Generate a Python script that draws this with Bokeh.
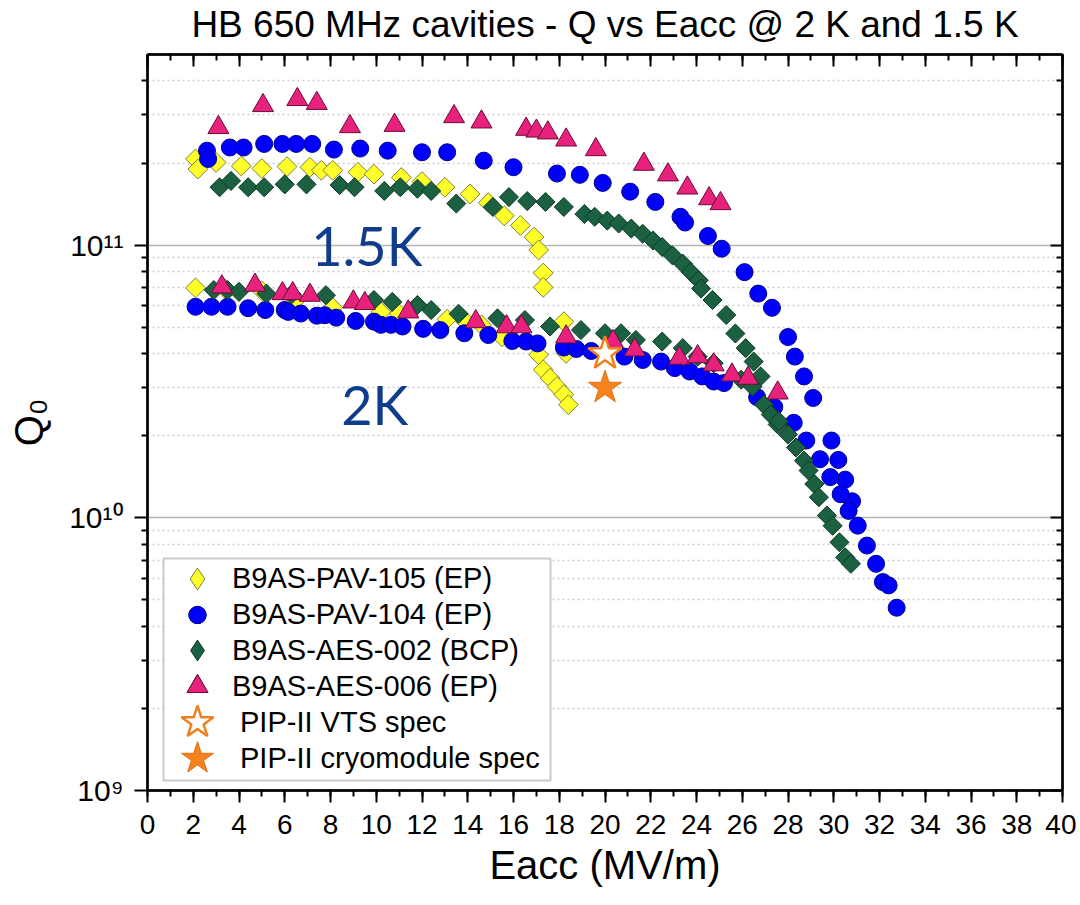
import math
from bokeh.plotting import figure
from bokeh.models import (Range1d, LinearAxis, LogAxis, FixedTicker, SingleIntervalTicker,
                          CustomJSTickFormatter, Legend, LegendItem, Label, BoxAnnotation)
from bokeh.embed import file_html
from bokeh.resources import INLINE

# ---------------- data ----------------
title_text = "HB 650 MHz cavities - Q vs Eacc @ 2 K and 1.5 K"
x_label = "Eacc (MV/m)"
y_label = "Q\u2080"
y_ticks = [1e9, 1e10, 1e11]
y_minor_ticks = [m * 10.0 ** e for e in (9, 10, 11) for m in range(2, 10) if m * 10.0 ** e < 5e11]

series_names = ["B9AS-PAV-105 (EP)", "B9AS-PAV-104 (EP)", "B9AS-AES-002 (BCP)",
                "B9AS-AES-006 (EP)", "PIP-II VTS spec", "PIP-II cryomodule spec"]

# B9AS-PAV-105 (EP) - yellow diamonds
pav105_x_15K = [2.1, 2.2, 3.0, 4.1, 5.0, 6.1, 7.1, 7.6, 8.1, 9.2, 9.9, 11.1, 12.0, 13.0, 14.1,
                14.9, 15.6, 16.3, 16.9, 17.1, 17.3, 17.3]
pav105_q_15K = [2.07e11, 1.90e11, 2.01e11, 1.95e11, 1.91e11, 1.94e11, 1.93e11, 1.88e11, 1.88e11,
                1.85e11, 1.82e11, 1.77e11, 1.71e11, 1.63e11, 1.54e11, 1.43e11, 1.28e11, 1.18e11,
                1.07e11, 9.6e10, 7.9e10, 7.0e10]
pav105_x_2K = [2.1, 3.4, 5.0, 6.5, 8.1, 10.2, 11.0, 13.1, 13.9, 14.6, 15.5, 17.1, 17.3, 17.6,
               17.9, 18.2, 18.4, 18.2, 18.3]
pav105_q_2K = [6.97e10, 6.9e10, 6.8e10, 6.3e10, 5.9e10, 5.69e10, 5.6e10, 5.35e10, 5.24e10,
               5.1e10, 4.61e10, 3.96e10, 3.49e10, 3.25e10, 3.03e10, 2.83e10, 2.60e10, 5.24e10, 4.01e10]

# B9AS-PAV-104 (EP) - blue circles
pav104_x_15K = [2.6, 2.65, 3.6, 4.2, 5.1, 5.9, 6.5, 7.2, 8.15, 9.3, 10.5, 12.0, 13.1, 14.7, 16.0,
                17.9, 18.9, 19.9, 21.1, 22.2, 23.3, 23.5, 24.5, 25.1, 26.1, 26.7, 27.3, 28.0, 28.3,
                28.7, 29.1, 29.9, 30.2, 30.5, 30.8]
pav104_q_15K = [2.22e11, 2.07e11, 2.28e11, 2.28e11, 2.35e11, 2.35e11, 2.35e11, 2.35e11, 2.24e11,
                2.26e11, 2.22e11, 2.19e11, 2.19e11, 2.04e11, 1.93e11, 1.83e11, 1.81e11, 1.69e11,
                1.57e11, 1.44e11, 1.27e11, 1.21e11, 1.08e11, 9.7e10, 7.96e10, 6.64e10, 5.89e10,
                4.6e10, 3.9e10, 3.3e10, 2.75e10, 1.92e10, 1.63e10, 1.38e10, 1.15e10]
pav104_x_2K = [2.1, 2.8, 3.5, 4.4, 5.15, 6.0, 6.15, 6.7, 7.4, 7.75, 8.25, 9.1, 9.9, 10.2, 10.65,
               11.15, 12.05, 12.8, 13.85, 14.9, 15.95, 16.55, 17.05, 18.2, 18.75, 19.4, 20.85,
               21.65, 22.45, 23.05, 23.7, 24.25, 24.75, 25.2, 26.65, 27.4, 28.25, 28.8, 29.4,
               29.85, 30.3, 30.65, 31.05, 31.45, 31.85, 32.15, 32.4, 32.75]
pav104_q_2K = [5.94e10, 5.94e10, 5.94e10, 5.87e10, 5.78e10, 5.78e10, 5.69e10, 5.61e10, 5.51e10,
               5.53e10, 5.42e10, 5.27e10, 5.24e10, 5.10e10, 5.10e10, 5.03e10, 4.93e10, 4.88e10,
               4.75e10, 4.68e10, 4.45e10, 4.43e10, 4.36e10, 4.21e10, 4.16e10, 4.09e10, 3.90e10,
               3.79e10, 3.74e10, 3.54e10, 3.44e10, 3.30e10, 3.16e10, 3.12e10, 2.77e10, 2.55e10,
               2.23e10, 1.92e10, 1.64e10, 1.41e10, 1.22e10, 1.06e10, 9.36e9, 7.91e9, 6.78e9,
               5.81e9, 5.65e9, 4.68e9]

# B9AS-AES-002 (BCP) - green diamonds
aes002_x_15K = [3.15, 3.65, 4.4, 5.1, 6.0, 6.95, 8.4, 9.05, 10.35, 11.05, 11.8, 12.4, 13.5, 15.1,
                15.8, 16.6, 17.4, 18.2, 19.1, 19.55, 20.1, 20.6, 21.15, 21.65, 22.1, 22.5, 22.95,
                23.4, 23.75, 24.1, 24.2, 24.7, 25.3, 25.7, 26.15, 26.5, 26.8]
aes002_q_15K = [1.63e11, 1.72e11, 1.63e11, 1.63e11, 1.67e11, 1.67e11, 1.66e11, 1.63e11, 1.58e11,
                1.63e11, 1.61e11, 1.58e11, 1.42e11, 1.38e11, 1.50e11, 1.45e11, 1.44e11, 1.38e11,
                1.30e11, 1.27e11, 1.23e11, 1.20e11, 1.15e11, 1.10e11, 1.04e11, 9.84e10, 9.17e10,
                8.55e10, 7.96e10, 7.43e10, 6.93e10, 6.29e10, 5.54e10, 4.74e10, 4.19e10, 3.74e10,
                3.30e10]
aes002_x_2K = [2.9, 3.5, 4.0, 5.2, 6.3, 7.8, 9.9, 10.7, 11.8, 12.4, 13.6, 15.3, 16.5, 17.6, 18.95,
               20.0, 20.7, 21.35, 22.5, 23.4, 24.05, 24.75, 25.95, 26.45, 26.95, 27.25, 27.55,
               27.6, 28.0, 28.35, 28.7, 28.9, 29.15, 29.35, 29.7, 29.95, 30.25, 30.5, 30.75]
aes002_q_2K = [6.84e10, 6.84e10, 6.74e10, 6.64e10, 6.6e10, 6.55e10, 6.29e10, 6.19e10, 6.03e10,
               5.78e10, 5.6e10, 5.39e10, 5.31e10, 5.03e10, 4.88e10, 4.75e10, 4.75e10, 4.49e10,
               4.43e10, 4.19e10, 3.90e10, 3.69e10, 3.21e10, 3.03e10, 2.60e10, 2.39e10, 2.20e10,
               2.26e10, 2.02e10, 1.81e10, 1.62e10, 1.49e10, 1.33e10, 1.19e10, 1.02e10, 9.35e9,
               8.13e9, 7.16e9, 6.78e9]

# B9AS-AES-006 (EP) - pink triangles
aes006_x_15K = [3.1, 5.05, 6.55, 7.4, 8.85, 10.8, 13.4, 14.6, 16.55, 17.0, 17.5, 18.3, 19.6,
                21.7, 22.75, 23.6, 24.55, 25.05]
aes006_q_15K = [2.70e11, 3.25e11, 3.42e11, 3.31e11, 2.72e11, 2.75e11, 2.96e11, 2.83e11, 2.66e11,
                2.62e11, 2.58e11, 2.43e11, 2.24e11, 1.98e11, 1.81e11, 1.62e11, 1.48e11, 1.42e11]
aes006_x_2K = [3.25, 4.7, 5.9, 6.35, 7.1, 9.0, 9.5, 11.4, 14.35, 15.7, 16.35, 18.3, 20.35, 21.3,
               23.25, 24.05, 24.75, 25.55, 26.25, 27.55]
aes006_q_2K = [7.03e10, 7.13e10, 6.64e10, 6.64e10, 6.55e10, 6.19e10, 6.11e10, 5.69e10, 5.24e10,
               5.02e10, 5.02e10, 4.61e10, 4.43e10, 4.13e10, 3.85e10, 3.90e10, 3.64e10, 3.34e10,
               3.25e10, 2.87e10]

# PIP-II specs
vts_spec_x = [20.0]
vts_spec_q = [4.0e10]
cm_spec_x = [20.0]
cm_spec_q = [3.0e10]

# annotation labels
temp_labels = ["1.5K", "2K"]
temp_label_x = [7.16, 8.47]
temp_label_q = [1.0e11, 2.61e10]

# ---------------- figure ----------------
FONT = "Liberation Sans"

p = figure(width=1076, height=900, x_range=Range1d(0, 40), y_range=Range1d(1e9, 5e11),
           y_axis_type="log", output_backend="svg", toolbar_location=None,
           min_border_left=147, min_border_right=14, min_border_top=53, min_border_bottom=110,
           background_fill_color="white", border_fill_color="white")
p.outline_line_color = "black"
p.outline_line_width = 2

blank = CustomJSTickFormatter(code="return ''")
sup_fmt = CustomJSTickFormatter(code="""
const sup = {'0':'\u2070','1':'\u00b9','2':'\u00b2','3':'\u00b3','4':'\u2074','5':'\u2075','6':'\u2076','7':'\u2077','8':'\u2078','9':'\u2079'};
const e = Math.round(Math.log10(tick));
return '10' + String(e).split('').map(c => sup[c]).join('');
""")


def xticker():
    return SingleIntervalTicker(interval=2, num_minor_ticks=2)


def yticker():
    return FixedTicker(ticks=y_ticks, minor_ticks=y_minor_ticks)


def style_axis(ax, inward):
    ax.axis_line_width = 2.5
    ax.axis_line_color = "black"
    ax.major_tick_line_width = 2
    ax.minor_tick_line_width = 2
    ax.major_tick_line_color = "black"
    ax.minor_tick_line_color = "black"
    if inward:
        ax.major_tick_in, ax.major_tick_out = 12, 0
        ax.minor_tick_in, ax.minor_tick_out = 6, 0
    else:
        ax.major_tick_in, ax.major_tick_out = 0, 12
        ax.minor_tick_in, ax.minor_tick_out = 0, 6
    ax.major_label_text_font = FONT
    ax.major_label_text_font_size = "28px"
    ax.major_label_text_color = "black"
    ax.axis_label_text_font = FONT
    ax.axis_label_text_font_style = "normal"
    ax.axis_label_text_color = "black"


xa = p.xaxis[0]
xa.ticker = xticker()
style_axis(xa, False)
xa.major_label_standoff = 12
xa.axis_label = x_label
xa.axis_label_text_font_size = "40px"
xa.axis_label_standoff = 6

ya = p.yaxis[0]
ya.ticker = yticker()
ya.formatter = sup_fmt
style_axis(ya, False)
ya.major_tick_out = 13
ya.major_label_text_font_size = "30px"
ya.major_label_standoff = 11
ya.axis_label = y_label
ya.axis_label_text_font_size = "40px"
ya.axis_label_standoff = 15

top = LinearAxis(ticker=xticker(), formatter=blank, major_label_standoff=0,
                 axis_label=title_text, axis_label_standoff=10)
style_axis(top, True)
top.major_label_text_font_size = "0px"
top.axis_label_text_font_size = "37px"
p.add_layout(top, "above")

right = LogAxis(ticker=yticker(), formatter=blank, major_label_standoff=0)
style_axis(right, True)
right.major_label_text_font_size = "0px"
p.add_layout(right, "right")

p.xgrid.visible = False
p.ygrid.ticker = yticker()
p.ygrid.level = "underlay"
p.ygrid.grid_line_color = "#b4b4b4"
p.ygrid.grid_line_width = 1.5
p.ygrid.minor_grid_line_color = "#cdcdcd"
p.ygrid.minor_grid_line_width = 1.5
p.ygrid.minor_grid_line_dash = "2 3"

ANG = math.pi / 4
yellow = dict(fill_color="#ffff2a", line_color="#7f7f40", line_width=1)
blue = dict(fill_color="#0000ff", line_color="#00008b", line_width=1)
green = dict(fill_color="#1b6040", line_color="#0f3a26", line_width=1)
pink = dict(fill_color="#e8217c", line_color="#6a0b38", line_width=1)

# legend-only diamond glyphs, hidden underneath the first real marker of each series
leg_y = p.scatter(pav105_x_15K[:1], pav105_q_15K[:1], marker="diamond", size=9, **yellow)
leg_g = p.scatter(aes002_x_15K[:1], aes002_q_15K[:1], marker="diamond", size=9, **green)

r_y1 = p.scatter(pav105_x_15K, pav105_q_15K, marker="square", size=14, angle=ANG, **yellow)
r_y2 = p.scatter(pav105_x_2K, pav105_q_2K, marker="square", size=14, angle=ANG, **yellow)
r_b1 = p.scatter(pav104_x_15K, pav104_q_15K, marker="circle", size=17, **blue)
r_b2 = p.scatter(pav104_x_2K, pav104_q_2K, marker="circle", size=17, **blue)
r_g1 = p.scatter(aes002_x_15K, aes002_q_15K, marker="square", size=13.5, angle=ANG, **green)
r_g2 = p.scatter(aes002_x_2K, aes002_q_2K, marker="square", size=13.5, angle=ANG, **green)
r_p1 = p.scatter(aes006_x_15K, aes006_q_15K, marker="triangle", size=21, **pink)
r_p2 = p.scatter(aes006_x_2K, aes006_q_2K, marker="triangle", size=21, **pink)
r_vts = p.scatter(vts_spec_x, vts_spec_q, marker="star", size=35, fill_color="white",
                  line_color="#f07f1e", line_width=2.5)
r_cm = p.scatter(cm_spec_x, cm_spec_q, marker="star", size=35, fill_color="#f5821f",
                 line_color="#e07010", line_width=1)

for t, tx, tq in zip(temp_labels, temp_label_x, temp_label_q):
    p.add_layout(Label(x=tx, y=tq, text=t, text_font="Lato", text_font_size="54px",
                       text_color="#0f3c8c", text_align="left", text_baseline="alphabetic"))

# legend frame (screen units, relative to the plot frame)
box = BoxAnnotation(left=16, right=403, bottom=10, top=232,
                    left_units="screen", right_units="screen",
                    bottom_units="screen", top_units="screen",
                    fill_color="white", fill_alpha=1.0,
                    line_color="#505050", line_width=2, level="overlay")
p.add_layout(box)

# one single-row legend per entry: row pitch 36 px, glyph sizes set by row height
# (name, renderers, row height, glyph box width, left offset, row centre, label standoff)
legend_rows = [
    (series_names[0], [leg_y], 55, 68, 16, 578, 1),
    (series_names[1], [r_b1, r_b2], 43, 68, 16, 614, 1),
    (series_names[2], [leg_g], 52, 68, 16, 650, 1),
    (series_names[3], [r_p1, r_p2], 52, 68, 16, 686, 1),
    (series_names[4], [r_vts], 96, 84, 8, 722, 1),
    (series_names[5], [r_cm], 96, 84, 8, 758, 1),
]
FRAME_BOTTOM = 790
for name, rends, h, gw, lx, center, so in legend_rows:
    lg = Legend(items=[LegendItem(label=name, renderers=rends)],
                location=(lx, FRAME_BOTTOM - center - h / 2))
    lg.level = "overlay"
    lg.label_text_font = FONT
    lg.label_text_font_size = "29px"
    lg.label_text_color = "black"
    lg.glyph_height = h
    lg.label_height = h
    lg.glyph_width = gw
    lg.label_standoff = so
    lg.label_width = 300
    lg.spacing = 0
    lg.padding = 0
    lg.margin = 0
    lg.border_line_alpha = 0
    lg.background_fill_alpha = 0
    p.add_layout(lg)

open("out.html", "w").write(file_html(p, INLINE))
